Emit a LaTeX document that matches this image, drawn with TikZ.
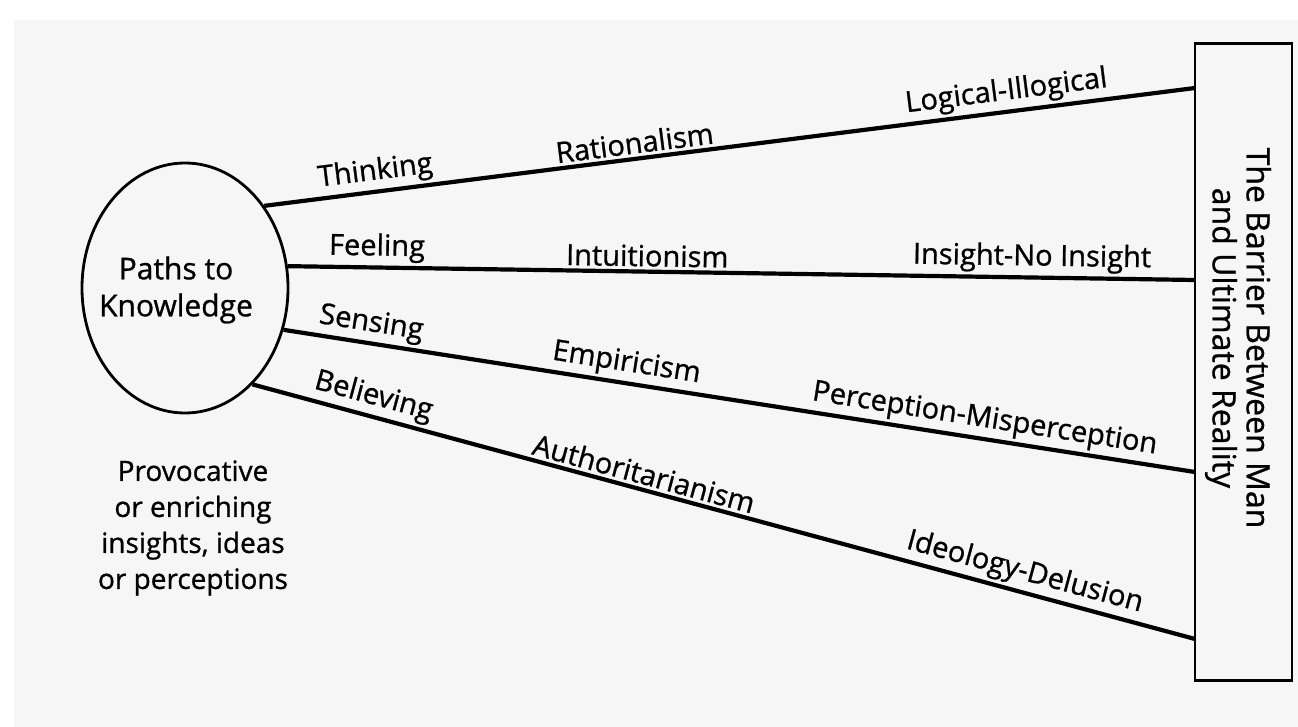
\documentclass[tikz,border=0pt]{standalone}
\usepackage{fontspec}
\setmainfont{Open Sans}[FakeBold=0.9]
\usetikzlibrary{shapes.geometric}
\begin{document}
\begin{tikzpicture}[x=1pt,y=-1pt,
  lbl/.style={font=\fontsize{29}{34}\selectfont, inner sep=3pt, sloped, above},
  conn/.style={line width=4.2pt},
  boxline/.style={line width=2.8pt}]
\useasboundingbox (0,0) rectangle (1298,727);
\fill[gray!7] (14,20) rectangle (1298,727);
% central ellipse
\node[ellipse, draw, boxline, minimum width=206pt, minimum height=250pt, inner sep=0pt] (paths) at (185,288) {};
\node[font=\fontsize{30}{37}\selectfont, align=center] (pathstxt) at (176,290) {Paths to\\Knowledge};
% barrier box
\node[draw, boxline, minimum width=97pt, minimum height=637pt, inner sep=0pt] (barrier) at (1243.5,362) {};
\node[rotate=-90, align=center, font=\fontsize{32}{34}\selectfont] (barriertxt) at (1238,338) {The Barrier Between Man\\and Ultimate Reality};
% end points on the barrier
\coordinate (end1) at (1195,88);
\coordinate (end2) at (1195,280);
\coordinate (end3) at (1195,472);
\coordinate (end4) at (1195,639);
% connectors with labels
\draw[conn] (paths.46) -- (end1)
  node[lbl, pos=.122] (thinking) {Thinking}
  node[lbl, pos=.40] (rationalism) {Rationalism}
  node[lbl, pos=.80] (logical) {Logical-Illogical};
\draw[conn] (paths.12) -- (end2)
  node[lbl, pos=.098] (feeling) {Feeling}
  node[lbl, pos=.396] (intuitionism) {Intuitionism}
  node[lbl, pos=.82] (insight) {Insight-No Insight};
\draw[conn] (paths.-23) -- (end3)
  node[lbl, pos=.093] (sensing) {Sensing}
  node[lbl, pos=.373] (empiricism) {Empiricism}
  node[lbl, pos=.766] (perception) {Perception-Misperception};
\draw[conn] (paths.-55) -- (end4)
  node[lbl, pos=.123] (believing) {Believing}
  node[lbl, pos=.411] (authoritarianism) {Authoritarianism}
  node[lbl, pos=.814] (ideology) {Ideology-Delusion};
% lower-left text
\node[align=center, font=\fontsize{28}{36}\selectfont] (prov) at (193,528) {Provocative\\or enriching\\insights, ideas\\or perceptions};
\end{tikzpicture}
\end{document}
